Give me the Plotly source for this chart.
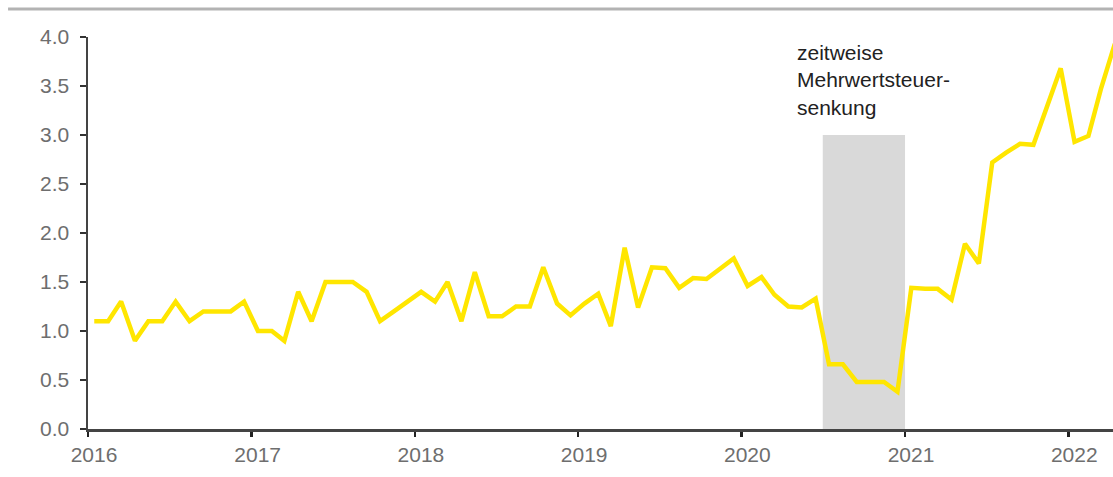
import pandas as pd
import plotly.graph_objects as go

# Monthly values, Jan 2016 - Apr 2022 (points plotted mid-month)
values_2016 = [1.1, 1.1, 1.3, 0.9, 1.1, 1.1, 1.3, 1.1, 1.2, 1.2, 1.2, 1.3]
values_2017 = [1.0, 1.0, 0.9, 1.4, 1.1, 1.5, 1.5, 1.5, 1.4, 1.1, 1.2, 1.3]
values_2018 = [1.4, 1.3, 1.5, 1.1, 1.6, 1.15, 1.15, 1.25, 1.25, 1.65, 1.28, 1.16]
values_2019 = [1.28, 1.38, 1.05, 1.85, 1.24, 1.65, 1.64, 1.44, 1.54, 1.53, 1.64, 1.74]
values_2020 = [1.46, 1.55, 1.37, 1.25, 1.24, 1.33, 0.66, 0.66, 0.48, 0.48, 0.48, 0.38]
values_2021 = [1.44, 1.43, 1.43, 1.32, 1.89, 1.69, 2.72, 2.82, 2.91, 2.90, 3.29, 3.68]
values_2022 = [2.93, 2.99, 3.47, 3.93]

values = values_2016 + values_2017 + values_2018 + values_2019 + values_2020 + values_2021 + values_2022
months = pd.date_range("2016-01-01", periods=len(values), freq="MS") + pd.Timedelta(days=14)

year_ticks = ["2016-01-01", "2017-01-01", "2018-01-01", "2019-01-01",
              "2020-01-01", "2021-01-01", "2022-01-01"]
year_labels = ["2016", "2017", "2018", "2019", "2020", "2021", "2022"]
y_ticks = [0.0, 0.5, 1.0, 1.5, 2.0, 2.5, 3.0, 3.5, 4.0]
y_labels = ["0.0", "0.5", "1.0", "1.5", "2.0", "2.5", "3.0", "3.5", "4.0"]

vat_start = "2020-07-01"
vat_end = "2021-01-01"
vat_height = 3.0
vat_label = "zeitweise<br>Mehrwertsteuer-<br>senkung"

FONT = "Liberation Sans, Arial, Helvetica, sans-serif"

fig = go.Figure()
fig.add_trace(go.Scatter(
    x=months, y=values, mode="lines",
    line=dict(color="#FFE600", width=4.5),
    hoverinfo="skip", showlegend=False, cliponaxis=True,
))

fig.add_shape(type="rect", xref="x", yref="y",
              x0=vat_start, x1=vat_end, y0=0, y1=vat_height,
              fillcolor="#d9d9d9", line=dict(width=0), layer="below")

# top rule
fig.add_shape(type="line", xref="paper", yref="paper",
              x0=-0.078, x1=1.0, y0=1.0714, y1=1.0714,
              line=dict(color="#b3b3b3", width=3))

fig.add_annotation(xref="paper", yref="paper", x=0.6898, y=0.995,
                   xanchor="left", yanchor="top", align="left",
                   text=vat_label, showarrow=False,
                   font=dict(family=FONT, size=21, color="#222222"))

fig.update_layout(
    width=1113, height=477,
    margin=dict(l=88, r=0, t=37, b=48),
    paper_bgcolor="white", plot_bgcolor="white",
    font=dict(family=FONT, size=21, color="#6e6e6e"),
    xaxis=dict(
        range=["2016-01-01", "2022-04-11"],
        tickmode="array", tickvals=year_ticks, ticktext=year_labels,
        showgrid=False, zeroline=False,
        showline=True, linecolor="#444444", linewidth=2.5,
        ticks="outside", ticklen=5, tickwidth=2.5, tickcolor="#222222",
        tickfont=dict(family=FONT, size=21, color="#6e6e6e"),
        ticklabelshift=6, ticklabelstandoff=0,
    ),
    yaxis=dict(
        range=[0, 4.0],
        tickmode="array", tickvals=y_ticks, ticktext=y_labels,
        showgrid=False, zeroline=False,
        showline=True, linecolor="#444444", linewidth=2.5,
        ticks="outside", ticklen=6, tickwidth=2.5, tickcolor="#333333",
        tickfont=dict(family=FONT, size=21, color="#6e6e6e"),
        ticklabelstandoff=6,
    ),
)

fig.write_html(
    "out.html",
    config={"displayModeBar": False, "staticPlot": True},
    post_script="document.body.style.margin='0';document.body.style.overflow='hidden';",
)
